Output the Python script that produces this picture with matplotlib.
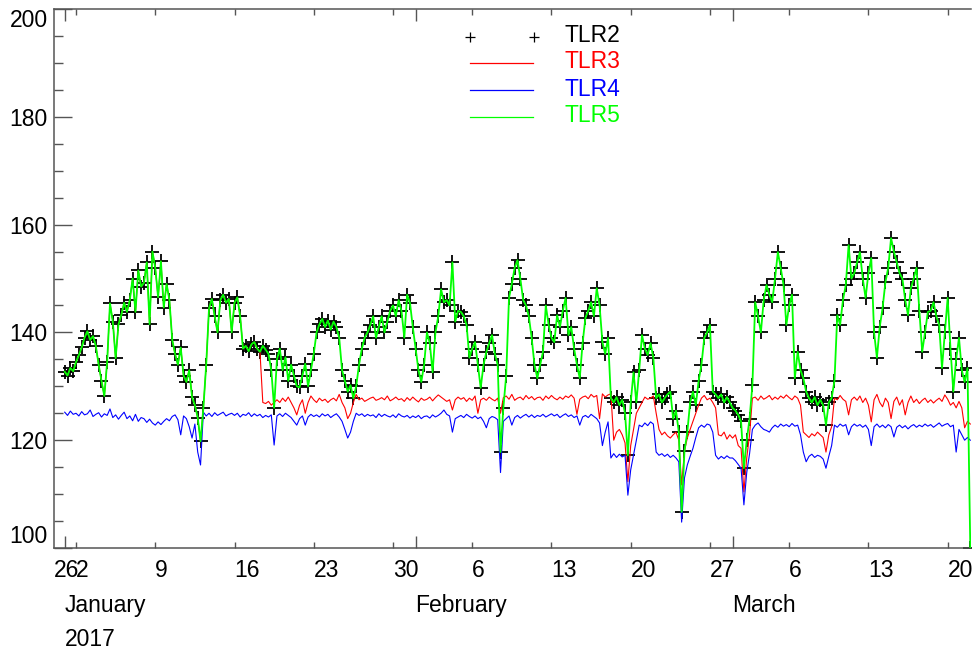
import numpy as np
import matplotlib
matplotlib.use('Agg')
import matplotlib.pyplot as plt
from matplotlib.lines import Line2D

plt.rcParams['font.family'] = ['Liberation Sans', 'DejaVu Sans']

# samples every 6 hours starting 2017-01-01 00:00 (x in days since Jan 1)
STEP = 0.25

tlr2 = [
    132.7, 132.0, 133.4, 132.8,  134.5, 135.8, 137.2, 139.0,  140.2, 138.6, 139.3, 137.5,
    134.0, 131.0, 128.2, 134.5,  145.4, 142.0, 135.2, 141.5,  143.2, 145.5, 143.8, 146.0,
    150.0, 143.8, 151.5, 148.5,  149.2, 153.0, 141.5, 155.0,  152.0, 146.5, 153.2, 144.6,
    149.0, 146.0, 138.6, 136.0,  134.0, 137.2, 132.0, 130.8,  133.0, 128.0, 126.5, 124.2,
    119.8, 126.0, 134.0, 144.5,  146.2, 143.0, 140.0, 146.0,  147.0, 145.5, 146.2, 140.0,
    145.5, 146.5, 143.0, 137.0,  137.5, 136.5, 137.8, 138.2,  137.0, 136.4, 137.5, 136.8,
    136.0, 133.0, 126.0, 135.0,  137.0, 133.0, 135.4, 131.0,  134.0, 132.0, 130.0, 129.8,
    132.0, 134.2, 130.0, 133.0,  136.0, 140.0, 141.5, 142.5,  141.0, 142.2, 140.5, 142.0,
    141.0, 139.0, 133.0, 131.0,  129.0, 130.2, 127.8, 130.0,  134.0, 137.0, 139.0, 140.0,
    141.4, 143.0, 139.0, 141.0,  143.0, 140.0, 142.0, 144.0,  145.0, 143.0, 146.0, 144.0,
    139.0, 147.0, 145.5, 141.0,  137.0, 133.0, 130.8, 134.0,  140.0, 138.0, 132.6, 140.0,
    143.0, 148.0, 145.6, 146.0,  145.0, 153.0, 142.0, 144.0,  143.8, 143.0, 141.4, 135.3,
    137.0, 138.2, 134.0, 129.7,  134.0, 136.4, 138.0, 139.5,  136.0, 134.0, 117.8, 126.0,
    132.0, 146.4, 149.0, 152.0,  153.4, 150.0, 146.0, 145.0,  143.0, 139.0, 134.0, 131.5,
    134.0, 136.4, 145.0, 141.4,  139.0, 138.2, 143.2, 141.0,  144.0, 146.4, 139.5, 141.0,
    137.0, 134.0, 131.5, 138.0,  142.7, 144.0, 145.6, 143.0,  148.2, 145.0, 138.2, 136.0,
    139.0, 127.8, 127.0, 128.0,  126.5, 127.5, 125.0, 117.2,  127.0, 132.6, 127.0, 133.0,
    139.5, 137.0, 135.8, 138.0,  135.3, 127.8, 128.5, 127.0,  127.8, 128.5, 129.0, 124.0,
    125.5, 121.5, 106.7, 118.0,  121.5, 127.0, 129.0, 126.5,  131.0, 134.0, 139.0, 140.0,
    141.4, 129.0, 128.5, 127.8,  128.5, 127.0, 128.0, 127.0,  126.0, 125.5, 124.7, 123.5,
    114.8, 120.0, 124.0, 130.2,  145.6, 143.0, 140.0, 146.0,  148.8, 147.0, 145.6, 150.0,
    154.9, 152.0, 148.8, 141.4,  145.0, 147.0, 131.5, 136.4,  133.0, 131.5, 129.0, 127.8,
    127.0, 128.0, 126.5, 127.5,  126.5, 122.8, 127.0, 127.8,  131.0, 143.2, 141.4, 146.0,
    148.8, 156.2, 150.0, 151.0,  153.0, 154.9, 150.0, 146.4,  151.0, 153.8, 140.0, 135.3,
    141.0, 144.5, 149.3, 152.0,  157.5, 155.0, 153.0, 151.0,  150.0, 146.0, 143.2, 148.2,
    150.0, 152.0, 144.0, 136.4,  140.0, 143.8, 144.0, 145.6,  143.0, 141.4, 133.4, 140.0,
    146.4, 137.0, 129.0, 135.0,  139.0, 133.0, 130.8, 133.4,
    100.0,
]

# TLR3 follows TLR2 exactly up to 17 Jan 06:00, then separates
tlr3_tail = [
    127.0, 126.8,
    127.2, 126.5, 127.0, 127.5,  127.0, 127.8, 127.2, 128.0,  127.0, 126.0, 124.7, 126.5,
    127.5, 125.0, 127.0, 128.2,  127.5, 127.0, 127.8, 127.3,  127.6, 127.0, 127.5, 127.8,
    127.3, 128.5, 127.0, 126.0,  124.0, 125.0, 127.0, 128.5,  127.5, 127.8, 127.2, 127.5,
    127.8, 128.0, 127.4, 127.6,  127.9, 127.5, 128.2, 127.3,  127.6, 128.0, 127.5, 127.7,
    127.2, 127.9, 127.4, 128.0,  127.5, 127.1, 127.8, 127.4,  127.6, 128.0, 127.3, 127.9,
    128.4, 128.0, 127.6, 127.2,  127.5, 125.6, 127.5, 128.0,  127.6, 127.9, 127.2, 127.8,
    127.4, 128.2, 125.0, 127.5,  127.8, 127.4, 128.0, 127.6,  127.3, 127.8, 125.0, 127.9,
    128.2, 127.6, 128.5, 127.4,  127.8, 128.0, 127.5, 128.3,  127.7, 128.1, 127.5, 127.9,
    128.0, 127.4, 128.2, 127.7,  128.3, 127.8, 127.5, 128.0,  127.6, 128.2, 127.9, 128.4,
    127.8, 124.8, 127.6, 128.0,  128.2, 127.7, 128.5, 128.0,  128.3, 124.0, 128.6, 128.0,
    128.4, 128.6, 120.0, 121.5,  122.0, 121.0, 119.5, 112.3,  119.0, 122.0, 125.0, 126.0,
    127.0, 128.0, 127.6, 127.8,  128.2, 125.0, 122.0, 121.0,  121.5, 120.8, 120.4, 121.0,
    121.5, 120.0, 111.7, 118.0,  120.4, 122.0, 123.5, 125.0,  126.5, 127.8, 128.3, 127.5,
    127.8, 127.0, 126.0, 121.0,  120.8, 121.5, 120.2, 121.0,  120.4, 121.0, 119.0, 118.5,
    110.4, 116.7, 121.0, 127.8,  128.0, 127.4, 128.2, 127.6,  127.9, 128.3, 127.5, 128.0,
    127.6, 128.2, 127.8, 128.4,  127.9, 127.5, 128.2, 127.8,  126.5, 121.5, 121.0, 120.5,
    121.2, 120.8, 121.5, 121.0,  120.5, 117.8, 121.0, 122.5,  127.8, 127.5, 128.3, 127.6,
    127.2, 124.7, 127.5, 128.0,  127.4, 128.2, 127.0, 127.8,  126.5, 123.4, 127.5, 128.5,
    127.0, 126.2, 127.8, 127.0,  124.0, 127.2, 128.0, 126.5,  127.5, 124.7, 127.0, 128.2,
    127.0, 127.6, 126.8, 127.4,  127.8, 127.0, 127.5, 126.9,  127.4, 127.8, 127.2, 128.4,
    127.6, 126.5, 127.0, 126.0,  127.2, 126.0, 122.3, 123.5,
    123.0,
]
tlr3 = tlr2[:70] + tlr3_tail

tlr4 = [
    125.2, 124.6, 125.4, 124.8,  125.0, 124.5, 125.3, 124.7,  124.9, 125.6, 124.4, 124.8,
    125.1, 124.3, 124.9, 124.6,  125.8, 124.2, 124.7, 123.9,  124.6, 125.2, 124.0, 124.5,
    123.6, 124.8, 123.5, 124.2,  124.0, 123.3, 123.9, 123.2,  122.8, 123.4, 122.9, 123.5,
    124.0, 123.6, 124.4, 124.7,  123.8, 121.0, 124.5, 124.0,  122.5, 120.4, 123.0, 117.8,
    115.4, 125.2, 124.5, 125.0,  124.4, 125.1, 124.6, 124.9,  125.2, 124.5, 124.8, 125.0,
    124.6, 125.0, 124.3, 124.8,  124.6, 125.1, 124.4, 124.9,  124.5, 124.8, 124.2, 124.6,
    124.3, 124.7, 119.1, 124.5,  124.9, 124.4, 125.0, 124.6,  124.2, 123.5, 122.8, 124.0,
    124.5, 122.8, 124.3, 124.8,  124.4, 124.7, 124.3, 124.9,  124.5, 124.8, 124.2, 124.6,
    124.9, 124.3, 123.5, 122.0,  120.4, 121.5, 123.5, 125.0,  124.6, 124.9, 124.4, 124.8,
    124.5, 124.7, 124.2, 124.9,  124.4, 124.8, 124.5, 124.3,  124.7, 124.2, 124.9, 124.5,
    124.3, 124.6, 124.1, 124.5,  124.2, 124.6, 124.0, 124.4,  124.5, 124.1, 124.7, 124.3,
    124.6, 125.0, 125.6, 124.8,  124.5, 121.5, 124.0, 124.3,  124.6, 124.2, 124.8, 124.4,
    124.1, 124.5, 124.0, 124.3,  123.5, 122.3, 124.0, 124.4,  124.2, 123.8, 114.0, 123.5,
    124.0, 124.5, 122.8, 124.2,  124.6, 124.1, 124.5, 124.8,  124.3, 124.7, 124.2, 124.6,
    124.4, 124.8, 124.3, 124.6,  124.9, 124.5, 124.8, 124.2,  124.6, 124.9, 124.4, 124.7,
    124.2, 124.5, 122.8, 124.3,  124.6, 124.2, 124.8, 124.4,  124.0, 123.2, 119.0, 121.5,
    123.4, 116.7, 117.5, 116.8,  117.4, 116.9, 117.2, 109.8,  114.5, 117.2, 120.0, 122.8,
    122.5, 123.2, 122.7, 123.4,  123.0, 117.8, 117.2, 117.5,  117.0, 117.4, 116.8, 117.2,
    116.7, 116.0, 104.8, 113.0,  115.4, 117.0, 118.5, 120.5,  122.3, 122.8, 122.4, 123.0,
    122.8, 121.5, 117.2, 116.5,  117.0, 116.6, 117.1, 116.7,  116.7, 116.2, 115.5, 114.8,
    108.0, 114.0, 117.5, 122.0,  122.8, 123.2, 122.5, 122.0,  121.8, 121.5, 122.3, 122.8,
    122.4, 123.0, 122.6, 122.9,  122.5, 123.1, 122.6, 122.8,  121.0, 117.8, 116.0, 117.0,
    117.4, 116.8, 117.2, 117.0,  116.5, 114.8, 117.0, 119.0,  122.8, 122.4, 123.0, 122.6,
    122.9, 121.0, 122.5, 123.0,  122.6, 122.9, 122.4, 122.8,  122.0, 119.0, 122.5, 123.0,
    122.4, 122.8, 122.3, 122.9,  122.5, 120.6, 122.4, 122.8,  122.3, 122.7, 122.1, 122.6,
    122.9, 122.4, 122.8, 122.5,  123.0, 122.6, 122.9, 122.4,  122.8, 123.2, 122.6, 122.9,
    123.1, 122.5, 122.8, 117.8,  122.0, 121.0, 120.0, 120.5,
    120.0,
]

# TLR5 coincides with TLR2 (drawn as green line over the black crosses)
tlr5 = list(tlr2)

series_names = ['TLR2', 'TLR3', 'TLR4', 'TLR5']
series_colors = ['#000000', '#ff0000', '#0000ff', '#00ff00']

week_days = [1, 8, 15, 22, 29, 36, 43, 50, 57, 64, 71, 78]
week_labels = ['2', '9', '16', '23', '30', '6', '13', '20', '27', '6', '13', '20']
month_days = [0, 31, 59]
month_labels = ['January', 'February', 'March']
year_label = '2017'
start_label = '26'
y_major = [100, 120, 140, 160, 180, 200]
y_minor = list(range(100, 201, 5))

W, H = 972, 652
fig = plt.figure(figsize=(W / 100, H / 100), dpi=100)
L, R, T, B = 54, 971, 9, 548
ax = fig.add_axes([L / W, 1 - B / H, (R - L) / W, (B - T) / H])

def xs(n):
    return np.arange(n) * STEP

FS = 16.5
ax.plot(xs(len(tlr2)), tlr2, linestyle='none', marker='+', color='black',
        markersize=10, markeredgewidth=1.3, zorder=2)
ax.plot(xs(len(tlr3)), tlr3, color='#ff0000', lw=0.8, zorder=3)
ax.plot(xs(len(tlr4)), tlr4, color='#0000ff', lw=0.8, zorder=3)
ax.plot(xs(len(tlr5)), tlr5, color='#00ff00', lw=1.3, zorder=4)

x0 = (L - 64.7) / 11.32
x1 = (R - 64.7) / 11.32
ax.set_xlim(x0, x1)
ax.set_ylim(100, 200)

spine_c = '#555555'
for s in ['left', 'bottom', 'top']:
    ax.spines[s].set_color(spine_c)
    ax.spines[s].set_linewidth(1.1)
ax.spines['right'].set_visible(False)

ax.set_xticks(week_days)
ax.set_xticklabels([])
ax.set_xticks(month_days, minor=True)
ax.set_yticks(y_major)
ax.set_yticks(y_minor, minor=True)
ax.tick_params(axis='x', which='major', direction='in', length=4.3, width=1,
               color=spine_c, top=True, bottom=True)
ax.tick_params(axis='x', which='minor', direction='in', length=8.6, width=1,
               color=spine_c, top=True, bottom=True)
ax.tick_params(axis='y', which='major', direction='in', length=13, width=1,
               color=spine_c, labelsize=FS, pad=4.5, right=False)
ax.tick_params(axis='y', which='minor', direction='in', length=6.2, width=1,
               color=spine_c, right=False)
ax.set_yticklabels([str(v) for v in y_major])
ylabs = ax.get_yticklabels()
ylabs[0].set_va('bottom')
ylabs[-1].set_va('top')

for d, lab in zip(week_days, week_labels):
    ax.annotate(lab, xy=(d, 0), xycoords=('data', 'axes fraction'),
                xytext=(0, -11), textcoords='offset pixels',
                ha='left', va='top', fontsize=FS)
ax.annotate(start_label, xy=(x0, 0), xycoords=('data', 'axes fraction'),
            xytext=(0, -11), textcoords='offset pixels',
            ha='left', va='top', fontsize=FS)
for d, lab in zip(month_days, month_labels):
    ax.annotate(lab, xy=(d, 0), xycoords=('data', 'axes fraction'),
                xytext=(0, -46), textcoords='offset pixels',
                ha='left', va='top', fontsize=FS)
ax.annotate(year_label, xy=(month_days[0], 0), xycoords=('data', 'axes fraction'),
            xytext=(0, -80), textcoords='offset pixels',
            ha='left', va='top', fontsize=FS)

# legend
def fx(px):
    return px / W

def fy(py):
    return 1 - py / H

leg_y = [37, 63, 90, 117]
for i, (name, col) in enumerate(zip(series_names, series_colors)):
    y = leg_y[i]
    if i == 0:
        fig.add_artist(Line2D([fx(470), fx(534)], [fy(y), fy(y)], linestyle='none',
                              marker='+', color='black', markersize=7,
                              markeredgewidth=0.9))
    else:
        fig.add_artist(Line2D([fx(470), fx(533)], [fy(y), fy(y)], color=col, lw=0.9))
    fig.text(fx(564), fy(y - 1), name, color=col, fontsize=FS, ha='left', va='center')

fig.savefig('out.png', dpi=100)
